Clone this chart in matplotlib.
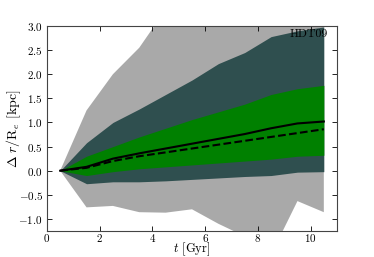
import matplotlib
matplotlib.use("Agg")
import matplotlib.pyplot as plt
from matplotlib.ticker import FuncFormatter

plt.rcParams['mathtext.fontset'] = 'cm'
plt.rcParams['font.family'] = 'serif'
plt.rcParams['font.serif'] = ['cmr10', 'DejaVu Serif']
plt.rcParams['axes.formatter.use_mathtext'] = True

# time bins [Gyr]
t = [0.5, 1.5, 2.5, 3.5, 4.5, 5.5, 6.5, 7.5, 8.5, 9.5, 10.5]

# median and mean displacement
median = [0.0, 0.08, 0.25, 0.36, 0.46, 0.56, 0.66, 0.76, 0.88, 0.98, 1.02]
mean = [0.0, 0.06, 0.20, 0.30, 0.38, 0.46, 0.54, 0.62, 0.70, 0.78, 0.86]

# inner band (green)
in_lo = [0.0, -0.10, -0.02, 0.04, 0.08, 0.12, 0.16, 0.20, 0.24, 0.30, 0.32]
in_hi = [0.0, 0.30, 0.50, 0.70, 0.88, 1.06, 1.22, 1.38, 1.58, 1.70, 1.77]

# middle band (dark slate)
mid_lo = [0.0, -0.27, -0.23, -0.23, -0.21, -0.18, -0.15, -0.12, -0.10, -0.03, -0.02]
mid_hi = [0.0, 0.58, 1.00, 1.28, 1.58, 1.88, 2.22, 2.45, 2.78, 2.90, 2.98]

# outer band (grey)
out_lo = [0.0, -0.76, -0.73, -0.86, -0.87, -0.80, -1.10, -1.36, -1.74, -0.63, -0.86]
out_hi = [0.0, 1.25, 2.00, 2.55, 3.34, 3.80, 4.20, 4.60, 5.00, 5.40, 5.80]

fig = plt.figure(figsize=(3.74, 2.57), dpi=100)
ax = fig.add_axes([47 / 374, 1 - 231 / 257, 290 / 374, 205 / 257])

ax.fill_between(t, out_lo, out_hi, color='darkgray', lw=0)
ax.fill_between(t, mid_lo, mid_hi, color='darkslategray', lw=0)
ax.fill_between(t, in_lo, in_hi, color='green', lw=0)
ax.plot(t, median, color='k', lw=1.5)
ax.plot(t, mean, color='k', lw=1.5, ls='--')

ax.text(10.65, 2.82, 'HDT09', ha='right', va='center', fontsize=8.5)

ax.set_xlim(0, 11)
ax.set_ylim(-1.25, 3.0)
ax.set_xticks([0, 2, 4, 6, 8, 10])
ax.set_yticks([-1.0, -0.5, 0.0, 0.5, 1.0, 1.5, 2.0, 2.5, 3.0])
ax.xaxis.set_major_formatter(FuncFormatter(lambda v, p: '$%d$' % v))
ax.yaxis.set_major_formatter(FuncFormatter(lambda v, p: '$%.1f$' % v))
ax.tick_params(direction='in', top=True, right=True, labelsize=8, length=3.5, width=0.6)
ax.tick_params(axis='x', pad=1)
ax.tick_params(axis='y', pad=3)
for s in ax.spines.values():
    s.set_linewidth(0.8)
    s.set_color('#444444')

ax.set_xlabel(r'$t$ [Gyr]', fontsize=9, va='center')
ax.set_ylabel(r'$\Delta\ r/\mathrm{R}_e$ [kpc]', fontsize=10, va='center')
ax.xaxis.set_label_coords(0.5, -0.088)
ax.yaxis.set_label_coords(-0.114, 0.5)

fig.savefig('out.png', dpi=100)
